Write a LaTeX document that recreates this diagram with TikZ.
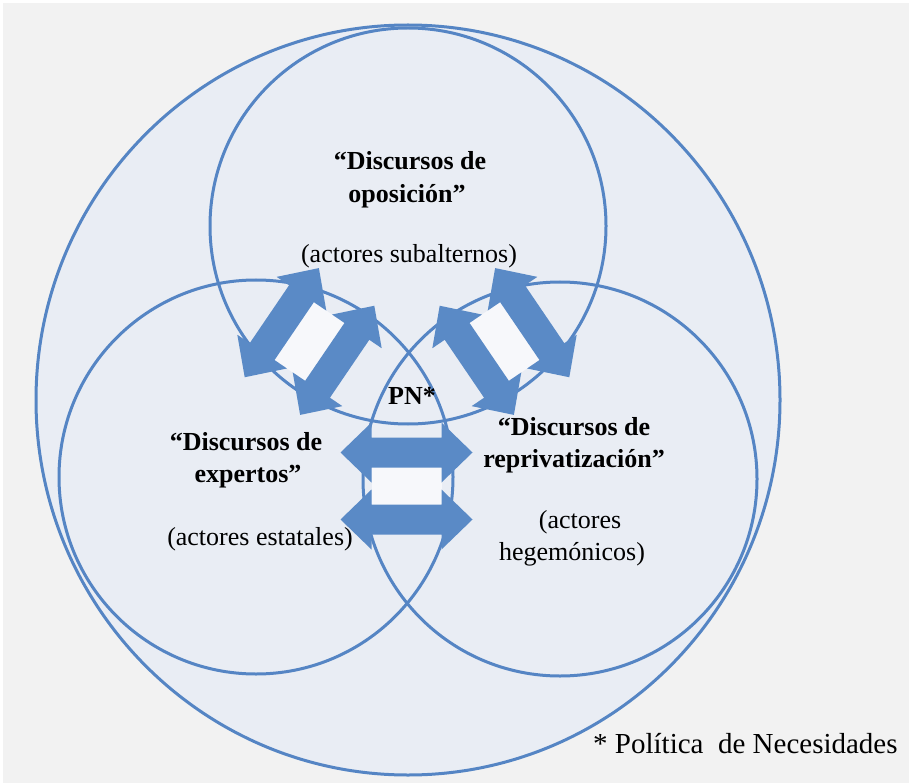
\documentclass[tikz,border=0pt]{standalone}
\usepackage{fontspec}
\setmainfont{Liberation Serif}
\definecolor{bgc}{HTML}{F2F2F2}
\definecolor{fillc}{HTML}{E9EDF4}
\definecolor{linec}{HTML}{5585C4}
\definecolor{arrc}{HTML}{5A8AC6}
\definecolor{gapc}{HTML}{F7F8FB}
\tikzset{
  ring/.style={draw=linec, line width=3pt},
  headtxt/.style={font=\fontsize{26}{30}\selectfont\bfseries, anchor=base, inner sep=0pt},
  subtxt/.style={font=\fontsize{26}{30}\selectfont, anchor=base, inner sep=0pt},
  notetxt/.style={font=\fontsize{29}{34}\selectfont, anchor=base west, inner sep=0pt},
  pics/arrowpair/.style={code={
    \fill[gapc] (-35,-33.5) rectangle (35,33.5);
    \foreach \s in {-33.5,33.5}{
      \fill[arrc] (-66,\s) -- (-35,\s+30) -- (-35,\s+15) -- (35,\s+15) -- (35,\s+30)
        -- (66,\s) -- (35,\s-30) -- (35,\s-15) -- (-35,\s-15) -- (-35,\s-30) -- cycle;
    }
  }}
}
\begin{document}
\begin{tikzpicture}[x=1pt,y=-1pt]
\useasboundingbox (0,0) rectangle (909,783);
\fill[white] (0,0) rectangle (909,783);
\fill[bgc] (3,3) rectangle (909,783);
% circles
\fill[fillc] (408,400) ellipse [x radius=372, y radius=375];
\draw[ring] (408,400) ellipse [x radius=372, y radius=375];
\draw[ring] (408,226) circle [radius=198];
\draw[ring] (256,477) circle [radius=197];
\draw[ring] (560,479) circle [radius=197];
% arrow pairs
\pic[rotate=55.8] at (309.5,341.5) {arrowpair};
\pic[rotate=-55.8] at (504.5,341.5) {arrowpair};
\pic at (406.5,486) {arrowpair};
% texts
\node[headtxt] (t1) at (410,170) {“Discursos de};
\node[headtxt] (t2) at (407,203) {oposición”};
\node[subtxt] (t3) at (409,263) {(actores subalternos)};
\node[headtxt] (l1) at (246,450) {“Discursos de};
\node[headtxt] (l2) at (248,482) {expertos”};
\node[subtxt] (l3) at (260,545) {(actores estatales)};
\node[headtxt] (r1) at (574,435) {“Discursos de};
\node[headtxt] (r2) at (574,467) {reprivatización”};
\node[subtxt] (r3) at (580,528) {(actores};
\node[subtxt] (r4) at (572,560) {hegemónicos)};
\node[headtxt] (pn) at (412,404) {PN*};
\node[notetxt] (note) at (593,753) {* Política\ \ de Necesidades};
\end{tikzpicture}
\end{document}
